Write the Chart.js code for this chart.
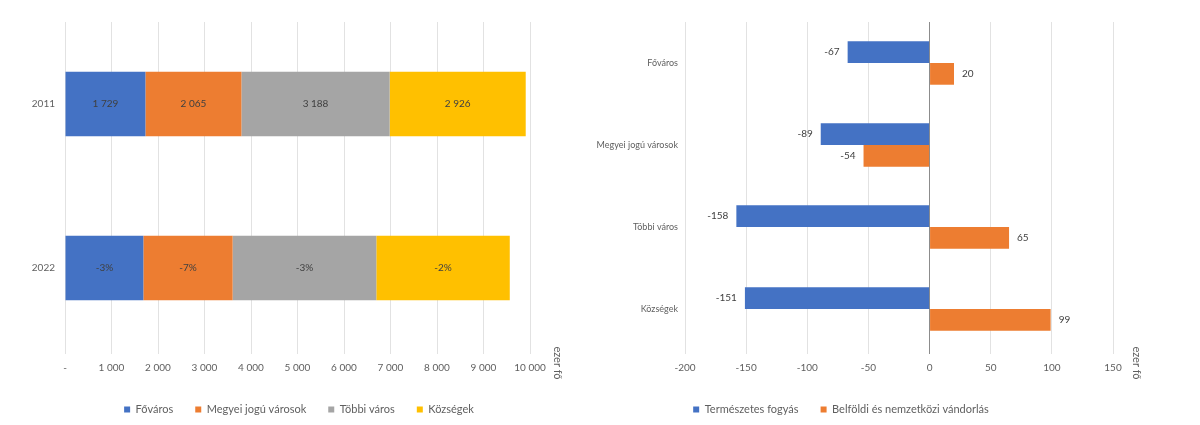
<!DOCTYPE html>
<html><head><meta charset="utf-8">
<script src="https://cdn.jsdelivr.net/npm/chart.js@4/dist/chart.umd.min.js"></script>
<style>
html,body{margin:0;padding:0;background:#fff;width:1200px;height:425px;overflow:hidden}
#c1{position:absolute;left:0;top:0}
#c2{position:absolute;left:569px;top:0}
</style></head><body>
<canvas id="c1" width="569" height="425"></canvas>
<canvas id="c2" width="631" height="425"></canvas>
<script>
// ---- Left chart data (ezer fő) ----
const years = ['2011', '2022'];
const fovaros = [1729, 1685];
const megyeiJoguVarosok = [2065, 1920];
const tobbiVaros = [3188, 3090];
const kozsegek = [2926, 2870];
const change2022Labels = ['-3%', '-7%', '-3%', '-2%'];
const leftSeriesNames = ['Főváros', 'Megyei jogú városok', 'Többi város', 'Községek'];

// ---- Right chart data (ezer fő) ----
const rightCategories = ['Főváros', 'Megyei jogú városok', 'Többi város', 'Községek'];
const termeszetesFogyas = [-67, -89, -158, -151];
const vandorlas = [20, -54, 65, 99];
const rightSeriesNames = ['Természetes fogyás', 'Belföldi és nemzetközi vándorlás'];

const unitLabel = 'ezer fő';

const COLORS = { blue: '#4472C4', orange: '#ED7D31', gray: '#A5A5A5', yellow: '#FFC000' };
const FONT = "Lato, 'Open Sans', 'Liberation Sans', sans-serif";
Chart.defaults.font.family = FONT;
Chart.defaults.font.size = 10;
Chart.defaults.color = '#5f5f5f';

const fmt = v => String(v).replace(/\B(?=(\d{3})+(?!\d))/g, ' ');

const unitTitle = {
  id: 'unitTitle',
  afterDraw(chart, args, opts) {
    const s = chart.scales.x, ctx = chart.ctx;
    ctx.save();
    ctx.translate(s.right + opts.dx, s.top + opts.dy);
    ctx.rotate(Math.PI / 2);
    ctx.font = '11px ' + FONT;
    ctx.fillStyle = '#5f5f5f';
    ctx.textAlign = 'center';
    ctx.textBaseline = 'middle';
    ctx.fillText(unitLabel, 0, 0);
    ctx.restore();
  }
};

// shifts the legend horizontally after layout
const legendShift = {
  id: 'legendShift',
  afterLayout(chart, args, opts) {
    if (chart.legend && opts.dx) {
      chart.legend.left += opts.dx;
      chart.legend.right += opts.dx;
    }
  }
};

const stackLabels = {
  id: 'stackLabels',
  afterDatasetsDraw(chart) {
    const ctx = chart.ctx;
    ctx.save();
    ctx.font = '10px ' + FONT;
    ctx.fillStyle = '#404040';
    ctx.textAlign = 'center';
    ctx.textBaseline = 'middle';
    chart.data.datasets.forEach((ds, di) => {
      chart.getDatasetMeta(di).data.forEach((bar, i) => {
        const p = bar.getProps(['x', 'y', 'base'], true);
        const text = i === 0 ? fmt(ds.data[i]) : change2022Labels[di];
        ctx.fillText(text, (p.x + p.base) / 2, p.y);
      });
    });
    ctx.restore();
  }
};

const endLabels = {
  id: 'endLabels',
  afterDatasetsDraw(chart) {
    const ctx = chart.ctx;
    ctx.save();
    ctx.font = '10px ' + FONT;
    ctx.fillStyle = '#404040';
    ctx.textBaseline = 'middle';
    chart.data.datasets.forEach((ds, di) => {
      chart.getDatasetMeta(di).data.forEach((bar, i) => {
        const p = bar.getProps(['x', 'y'], true);
        const v = ds.data[i];
        if (v < 0) { ctx.textAlign = 'right'; ctx.fillText(String(v), p.x - 8, p.y); }
        else { ctx.textAlign = 'left'; ctx.fillText(String(v), p.x + 8, p.y); }
      });
    });
    ctx.restore();
  }
};

const legendOpts = {
  position: 'bottom',
  labels: { boxWidth: 6, boxHeight: 6, padding: 22, color: '#5f5f5f', font: { size: 11 } }
};

new Chart(document.getElementById('c1'), {
  type: 'bar',
  data: {
    labels: years,
    datasets: [
      { label: leftSeriesNames[0], data: fovaros, backgroundColor: COLORS.blue },
      { label: leftSeriesNames[1], data: megyeiJoguVarosok, backgroundColor: COLORS.orange },
      { label: leftSeriesNames[2], data: tobbiVaros, backgroundColor: COLORS.gray },
      { label: leftSeriesNames[3], data: kozsegek, backgroundColor: COLORS.yellow }
    ]
  },
  options: {
    indexAxis: 'y',
    responsive: false,
    animation: false,
    layout: { padding: { left: 0, right: 39, top: 22, bottom: 0 } },
    datasets: { bar: { categoryPercentage: 1, barPercentage: 0.394 } },
    scales: {
      x: {
        stacked: true, min: 0, max: 10000,
        ticks: { stepSize: 1000, padding: 8, callback: v => v === 0 ? '-' : fmt(v) },
        grid: { color: '#e2e2e2', tickLength: 4, drawTicks: true },
        border: { display: false },
        afterFit: s => { s.height = 32; }
      },
      y: {
        stacked: true,
        grid: { display: false, drawTicks: false },
        border: { display: false },
        ticks: { padding: 10, font: { size: 10 } },
        afterFit: s => { s.width = 65; }
      }
    },
    plugins: {
      legend: legendOpts,
      tooltip: { enabled: false },
      unitTitle: { dx: 28, dy: 13 },
      legendShift: { dx: 34 }
    }
  },
  plugins: [stackLabels, unitTitle, legendShift]
});

new Chart(document.getElementById('c2'), {
  type: 'bar',
  data: {
    labels: rightCategories,
    datasets: [
      { label: rightSeriesNames[0], data: termeszetesFogyas, backgroundColor: COLORS.blue },
      { label: rightSeriesNames[1], data: vandorlas, backgroundColor: COLORS.orange }
    ]
  },
  options: {
    indexAxis: 'y',
    responsive: false,
    animation: false,
    layout: { padding: { left: 0, right: 87, top: 22, bottom: 0 } },
    datasets: { bar: { categoryPercentage: 0.53, barPercentage: 1 } },
    scales: {
      x: {
        min: -200, max: 150,
        ticks: { stepSize: 50, padding: 8, callback: v => String(v) },
        grid: {
          color: c => (c.tick && c.tick.value === 0) ? '#8c8c8c' : '#e2e2e2',
          tickLength: 4, drawTicks: true
        },
        border: { display: false },
        afterFit: s => { s.height = 32; }
      },
      y: {
        grid: { display: false, drawTicks: false },
        border: { display: false },
        ticks: { padding: 7, font: { size: 9 } },
        afterFit: s => { s.width = 116; }
      }
    },
    plugins: {
      legend: legendOpts,
      tooltip: { enabled: false },
      unitTitle: { dx: 24, dy: 13 },
      legendShift: { dx: 0 }
    }
  },
  plugins: [endLabels, unitTitle, legendShift]
});
</script>
</body></html>
